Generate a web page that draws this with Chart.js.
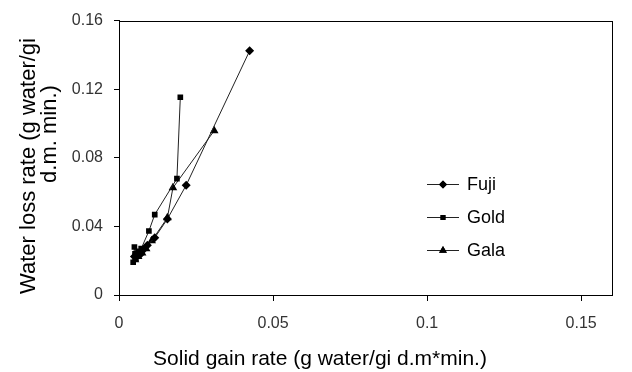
<!DOCTYPE html>
<html><head><meta charset="utf-8">
<script src="https://cdn.jsdelivr.net/npm/chart.js@4/dist/chart.umd.min.js"></script>
<style>html,body{margin:0;padding:0;background:#fff;}#wrap{width:632px;height:372px;position:relative;}</style>
</head><body><div id="wrap"><canvas id="c" width="632" height="372"></canvas></div>
<script>
const seriesNames = ["Fuji", "Gold", "Gala"];
const fujiX = [0.0050, 0.0058, 0.0068, 0.0080, 0.0092, 0.0116, 0.0157, 0.0218, 0.0424];
const fujiY = [0.0225, 0.0240, 0.0235, 0.0265, 0.0290, 0.0334, 0.0443, 0.0640, 0.1424];
const goldX = [0.0046, 0.0050, 0.0055, 0.0052, 0.0062, 0.0072, 0.0097, 0.0116, 0.0188, 0.0199];
const goldY = [0.0191, 0.0280, 0.0215, 0.0240, 0.0255, 0.0270, 0.0373, 0.0469, 0.0679, 0.1153];
const galaX = [0.0052, 0.0062, 0.0075, 0.0088, 0.0106, 0.0157, 0.0175, 0.0309];
const galaY = [0.0205, 0.0225, 0.0245, 0.0270, 0.0316, 0.0450, 0.0625, 0.0958];
const xTicks = [0, 0.05, 0.1, 0.15];
const yTicks = [0, 0.04, 0.08, 0.12, 0.16];
const xTitle = "Solid gain rate (g water/gi d.m*min.)";
const yTitle = ["Water loss rate (g water/gi", "d.m. min.)"];

const styles = ["rectRot", "rect", "triangle"];
const radii = [4.5, 4, 5];
const xs = [fujiX, goldX, galaX], ys = [fujiY, goldY, galaY];
const FONT = "'Liberation Sans', Arial, sans-serif";

const datasets = seriesNames.map((n, i) => ({
  label: n,
  data: xs[i].map((x, j) => ({x: x, y: ys[i][j]})),
  showLine: true,
  borderColor: "#222",
  borderWidth: 1,
  backgroundColor: "#000",
  pointBackgroundColor: "#000",
  pointBorderColor: "#000",
  pointBorderWidth: 0,
  pointStyle: styles[i],
  pointRadius: radii[i],
  tension: 0
}));

const frame = {
  id: "frame",
  afterDraw(chart) {
    const ctx = chart.ctx, a = chart.chartArea;
    ctx.save();
    ctx.strokeStyle = "#000";
    ctx.lineWidth = 1;
    ctx.strokeRect(Math.round(a.left) + 0.5, Math.round(a.top) + 0.5, Math.round(a.right - a.left), Math.round(a.bottom - a.top));
    // axis titles
    ctx.fillStyle = "#000";
    ctx.textAlign = "center";
    ctx.textBaseline = "alphabetic";
    ctx.font = "21px " + FONT;
    ctx.fillText(xTitle, 320, 365);
    ctx.font = "22px " + FONT;
    ctx.save();
    ctx.translate(35, 166);
    ctx.rotate(-Math.PI / 2);
    ctx.fillText(yTitle[0], 0, 0);
    ctx.restore();
    ctx.save();
    ctx.translate(56, 134);
    ctx.rotate(-Math.PI / 2);
    ctx.fillText(yTitle[1], 0, 0);
    ctx.restore();
    // legend
    const rowsY = [184, 217, 250];
    seriesNames.forEach((n, i) => {
      const y = rowsY[i] + 0.5;
      ctx.strokeStyle = "#222";
      ctx.beginPath(); ctx.moveTo(427, y); ctx.lineTo(459, y); ctx.stroke();
      Chart.helpers.drawPoint(ctx, {pointStyle: styles[i], radius: radii[i] - 0.5, borderWidth: 0}, 443, y);
      ctx.fillStyle = "#000";
      ctx.fill();
      ctx.font = "18px " + FONT;
      ctx.textAlign = "left";
      ctx.textBaseline = "middle";
      ctx.fillText(n, 467, rowsY[i] + 1);
    });
    ctx.restore();
  }
};

new Chart(document.getElementById("c"), {
  type: "scatter",
  data: {datasets},
  options: {
    responsive: false,
    animation: false,
    devicePixelRatio: 1,
    layout: {padding: {top: 16, right: 20, left: 0, bottom: 0}},
    plugins: {legend: {display: false}, tooltip: {enabled: false}},
    scales: {
      x: {
        type: "linear", min: 0, max: 0.16,
        afterBuildTicks(s) { s.ticks = xTicks.map(v => ({value: v})); },
        afterFit(s) { s.height = 77; },
        grid: {display: true, drawOnChartArea: false, drawTicks: true, tickLength: 6, color: "#000"},
        border: {display: true, color: "#000", width: 1},
        ticks: {color: "#333", font: {family: FONT, size: 16}, padding: 13, maxRotation: 0,
                callback: v => String(v)}
      },
      y: {
        type: "linear", min: 0, max: 0.16,
        afterBuildTicks(s) { s.ticks = yTicks.map(v => ({value: v})); },
        afterFit(s) { s.width = 119; },
        grid: {display: true, drawOnChartArea: false, drawTicks: true, tickLength: 5, color: "#000"},
        border: {display: true, color: "#000", width: 1},
        ticks: {color: "#333", font: {family: FONT, size: 16}, padding: 11,
                callback: v => String(v)}
      }
    }
  },
  plugins: [frame]
});
</script></body></html>
